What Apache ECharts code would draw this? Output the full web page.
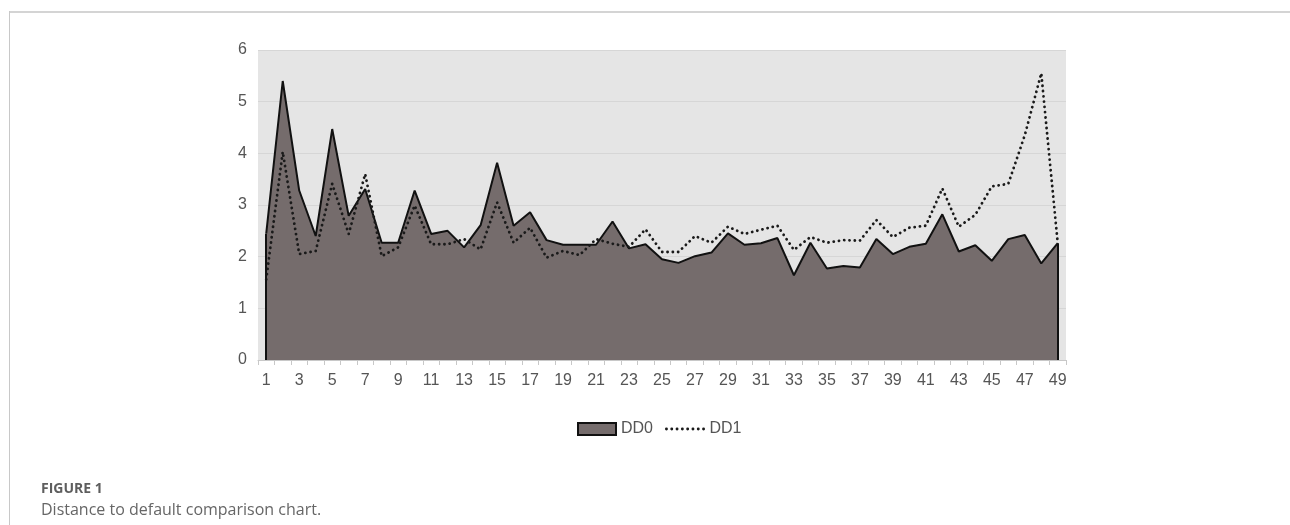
<!DOCTYPE html>
<html>
<head>
<meta charset="utf-8">
<script src="https://cdn.jsdelivr.net/npm/echarts@6/dist/echarts.min.js"></script>
<style>
  html, body { margin:0; padding:0; background:#fff; }
  #wrap { position:relative; width:1290px; height:525px; overflow:hidden; }
  #chart { position:absolute; left:0; top:0; width:1290px; height:525px; }
  #topline { position:absolute; left:9px; top:11px; width:1281px; height:2px; background:#d4d4d4; }
  #leftline { position:absolute; left:9px; top:11px; width:1px; height:514px; background:#c8c8c8; }
  #cap1 { position:absolute; left:41px; top:478px; font-family:"Open Sans",sans-serif; font-weight:bold; font-size:14px; color:#5e5e5e; }
  #cap2 { position:absolute; left:41px; top:498px; font-family:"Open Sans",sans-serif; font-size:16px; color:#666; }
</style>
</head>
<body>
<div id="wrap">
  <div id="chart"></div>
  <div id="topline"></div>
  <div id="leftline"></div>
  <div id="cap1">FIGURE 1</div>
  <div id="cap2">Distance to default comparison chart.</div>
</div>
<script>
const categories = ['1','2','3','4','5','6','7','8','9','10','11','12','13','14','15','16','17','18','19','20','21','22','23','24','25','26','27','28','29','30','31','32','33','34','35','36','37','38','39','40','41','42','43','44','45','46','47','48','49'];
const dd0 = [2.45,5.40,3.28,2.40,4.47,2.79,3.31,2.27,2.27,3.28,2.44,2.50,2.18,2.61,3.82,2.60,2.86,2.32,2.23,2.23,2.23,2.68,2.16,2.24,1.95,1.88,2.01,2.08,2.45,2.23,2.26,2.36,1.64,2.27,1.77,1.82,1.79,2.34,2.05,2.19,2.25,2.82,2.10,2.22,1.92,2.34,2.42,1.87,2.26];
const dd1 = [1.56,4.03,2.05,2.11,3.41,2.44,3.60,2.01,2.18,2.99,2.24,2.24,2.34,2.14,3.05,2.27,2.56,1.98,2.11,2.03,2.34,2.25,2.19,2.53,2.09,2.09,2.40,2.27,2.58,2.44,2.52,2.60,2.13,2.38,2.27,2.32,2.31,2.71,2.38,2.56,2.60,3.32,2.58,2.81,3.36,3.41,4.35,5.55,2.26];
const seriesNames = ['DD0','DD1'];
const yTicks = { min: 0, max: 6, interval: 1 };

const FONT = "'Liberation Sans', Arial, sans-serif";
const chart = echarts.init(document.getElementById('chart'), null, { renderer: 'canvas' });
const last = categories.length - 1;
const dotStyle = { color: '#1a1a1a', width: 2.8, type: [0.1, 5.2], cap: 'round' };
chart.setOption({
  animation: false,
  textStyle: { fontFamily: FONT },
  grid: { left: 258, right: 224, top: 50, bottom: 165, show: true, backgroundColor: '#e5e5e5', borderWidth: 0 },
  legend: {
    left: 572, top: 416, itemWidth: 38, itemHeight: 12, itemGap: 12,
    textStyle: { fontSize: 16, color: '#555', fontFamily: FONT },
    data: [
      { name: seriesNames[0], icon: 'rect', itemStyle: { color: '#756c6c', borderColor: '#111', borderWidth: 2 } },
      { name: seriesNames[1], itemStyle: { color: 'rgba(0,0,0,0)', borderColor: 'rgba(0,0,0,0)', borderWidth: 0, opacity: 0 }, lineStyle: dotStyle }
    ]
  },
  xAxis: {
    type: 'category', data: categories, boundaryGap: true,
    axisLine: { lineStyle: { color: '#c8c8c8', width: 1 } },
    axisTick: { show: true, interval: 0, length: 5, lineStyle: { color: '#c8c8c8' } },
    axisLabel: { interval: 1, fontSize: 16, color: '#555', margin: 13, fontFamily: FONT },
    splitLine: { show: false }
  },
  yAxis: {
    type: 'value', min: yTicks.min, max: yTicks.max, interval: yTicks.interval,
    axisLine: { show: false }, axisTick: { show: false },
    axisLabel: { fontSize: 16, color: '#555', margin: 11, fontFamily: FONT },
    splitLine: { lineStyle: { color: '#d6d6d6', width: 1 } }
  },
  series: [
    {
      name: seriesNames[0], type: 'line', data: dd0, symbol: 'none', z: 2,
      lineStyle: { color: '#111', width: 2 },
      itemStyle: { color: '#756c6c', borderColor: '#111' },
      areaStyle: { color: '#756c6c', opacity: 1 },
      markLine: {
        silent: true, symbol: 'none', label: { show: false },
        lineStyle: { color: '#111', width: 2, type: 'solid' },
        data: [
          [ { coord: [0, 0] }, { coord: [0, dd0[0]] } ],
          [ { coord: [last, 0] }, { coord: [last, dd0[last]] } ]
        ]
      }
    },
    {
      name: seriesNames[1], type: 'line', data: dd1, symbol: 'none', z: 3,
      lineStyle: dotStyle,
      itemStyle: { color: '#1a1a1a' }
    }
  ]
});
</script>
</body>
</html>
